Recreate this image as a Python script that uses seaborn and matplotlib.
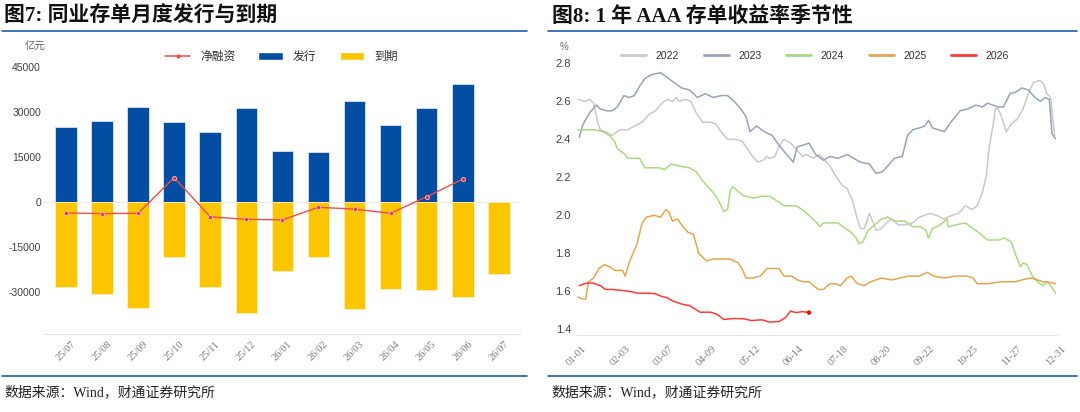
import numpy as np
import pandas as pd
import seaborn as sns
import matplotlib
matplotlib.use("Agg")
from matplotlib import pyplot as plt
from matplotlib.lines import Line2D
from matplotlib.patches import Patch

# ---------------- 图7 data (亿元) ----------------
months = ["25/07", "25/08", "25/09", "25/10", "25/11", "25/12", "26/01",
          "26/02", "26/03", "26/04", "26/05", "26/06", "26/07"]
issuance = [24800, 26800, 31500, 26400, 23300, 31200, 17000,
            16700, 33400, 25400, 31200, 39300, np.nan]
maturity = [-28600, -30800, -35400, -18400, -28400, -37100, -23100,
            -18600, -35900, -29300, -29600, -31800, -24200]
net = list(np.array(issuance) + np.array(maturity))

# ---------------- 图8 data (%) ----------------
days_2022 = [1, 6, 10, 13, 16, 18, 22, 27, 33, 39, 44, 50, 55, 60, 65, 69, 73, 76, 78, 83,
             87, 91, 96, 102, 106, 110, 115, 121, 126, 130, 134, 138, 142, 145, 147, 151, 154, 158, 163, 167,
             172, 175, 180, 185, 189, 193, 197, 202, 206, 210, 213, 216, 219, 223, 226, 228, 232, 236, 240, 245,
             250, 256, 261, 265, 269, 274, 280, 286, 291, 296, 301, 305, 309, 312, 314, 317, 319, 321, 323, 327,
             331, 336, 340, 344, 348, 353, 356, 358, 361, 364]
rate_2022 = [2.61, 2.60, 2.61, 2.59, 2.49, 2.45, 2.44, 2.42, 2.45, 2.45, 2.47, 2.49, 2.53, 2.55, 2.59, 2.61, 2.60, 2.62, 2.60, 2.61,
             2.60, 2.54, 2.49, 2.49, 2.48, 2.44, 2.40, 2.40, 2.39, 2.35, 2.31, 2.28, 2.29, 2.31, 2.30, 2.31, 2.36, 2.40, 2.38, 2.35,
             2.31, 2.32, 2.30, 2.32, 2.29, 2.26, 2.21, 2.16, 2.14, 2.08, 2.00, 1.93, 1.93, 2.01, 1.96, 1.92, 1.93, 1.96, 1.98, 1.95,
             1.95, 1.96, 1.99, 2.00, 2.01, 2.00, 1.98, 2.00, 2.01, 2.05, 2.03, 2.05, 2.12, 2.21, 2.35, 2.47, 2.56, 2.56, 2.53, 2.44,
             2.48, 2.51, 2.56, 2.64, 2.70, 2.71, 2.69, 2.64, 2.62, 2.42]

days_2023 = [2, 5, 10, 15, 18, 23, 27, 31, 36, 40, 44, 48, 52, 57, 64, 70, 76, 80, 86, 92,
             98, 104, 110, 115, 120, 125, 129, 132, 137, 143, 149, 154, 160, 165, 168, 173, 177, 182, 188, 193,
             199, 206, 211, 216, 223, 228, 233, 237, 242, 248, 252, 256, 261, 265, 268, 271, 280, 285, 292, 298,
             304, 309, 313, 321, 325, 330, 335, 339, 344, 349, 353, 357, 360, 362, 365]
rate_2023 = [2.41, 2.48, 2.54, 2.58, 2.56, 2.55, 2.55, 2.57, 2.63, 2.62, 2.63, 2.68, 2.72, 2.74, 2.75, 2.72, 2.69, 2.67, 2.66, 2.62,
             2.64, 2.62, 2.63, 2.63, 2.60, 2.56, 2.52, 2.44, 2.47, 2.44, 2.42, 2.37, 2.32, 2.28, 2.36, 2.37, 2.38, 2.32, 2.29, 2.31,
             2.30, 2.32, 2.30, 2.28, 2.27, 2.22, 2.23, 2.26, 2.30, 2.31, 2.42, 2.45, 2.46, 2.47, 2.50, 2.46, 2.44, 2.49, 2.55, 2.56,
             2.58, 2.57, 2.59, 2.57, 2.57, 2.64, 2.65, 2.67, 2.66, 2.62, 2.60, 2.62, 2.61, 2.43, 2.40]

days_2024 = [0, 8, 14, 20, 25, 29, 31, 37, 39, 48, 52, 57, 63, 67, 72, 78, 86, 91, 95, 100,
             104, 108, 112, 115, 117, 119, 124, 128, 130, 134, 141, 147, 154, 158, 167, 172, 177, 183, 185, 188,
             193, 199, 203, 209, 213, 215, 218, 222, 227, 232, 237, 242, 250, 256, 262, 266, 268, 271, 277, 282,
             283, 289, 296, 300, 306, 313, 321, 326, 331, 335, 338, 340, 343, 347, 351, 355, 358, 361, 365]
rate_2024 = [2.45, 2.45, 2.45, 2.44, 2.42, 2.39, 2.35, 2.32, 2.30, 2.30, 2.25, 2.25, 2.25, 2.24, 2.27, 2.26, 2.25, 2.23, 2.19, 2.15,
             2.12, 2.08, 2.02, 2.03, 2.13, 2.15, 2.12, 2.10, 2.10, 2.09, 2.10, 2.10, 2.07, 2.05, 2.05, 2.03, 2.00, 1.96, 1.94, 1.96,
             1.96, 1.96, 1.94, 1.91, 1.88, 1.85, 1.86, 1.92, 1.95, 1.98, 1.99, 1.97, 1.97, 1.94, 1.94, 1.92, 1.88, 1.93, 1.95, 1.98,
             1.94, 1.95, 1.96, 1.94, 1.91, 1.87, 1.87, 1.88, 1.86, 1.78, 1.73, 1.75, 1.74, 1.68, 1.65, 1.63, 1.65, 1.63, 1.59]

days_2025 = [1, 4, 7, 9, 13, 17, 21, 25, 29, 35, 37, 40, 43, 46, 50, 53, 59, 64, 68, 70,
             73, 77, 81, 85, 89, 93, 99, 104, 112, 117, 123, 126, 129, 134, 140, 145, 150, 154, 158, 164,
             168, 173, 177, 184, 188, 193, 197, 201, 206, 209, 214, 219, 224, 232, 240, 246, 253, 261, 267, 272,
             280, 288, 297, 302, 305, 313, 323, 334, 339, 346, 351, 355, 358, 365]
rate_2025 = [1.57, 1.56, 1.56, 1.65, 1.67, 1.72, 1.74, 1.73, 1.71, 1.71, 1.68, 1.75, 1.80, 1.85, 1.96, 1.99, 2.00, 1.99, 2.03, 2.02,
             1.97, 1.98, 1.94, 1.91, 1.90, 1.80, 1.76, 1.77, 1.77, 1.77, 1.75, 1.72, 1.67, 1.67, 1.68, 1.72, 1.72, 1.72, 1.68, 1.68,
             1.66, 1.65, 1.65, 1.61, 1.61, 1.64, 1.64, 1.63, 1.67, 1.68, 1.64, 1.63, 1.65, 1.67, 1.66, 1.67, 1.68, 1.68, 1.70, 1.68,
             1.67, 1.68, 1.68, 1.67, 1.64, 1.64, 1.65, 1.65, 1.66, 1.67, 1.66, 1.65, 1.65, 1.64]

days_2026 = [2, 6, 10, 14, 18, 22, 27, 34, 40, 47, 55, 60, 64, 69, 73, 77, 81, 86, 94, 102,
             107, 112, 120, 128, 133, 141, 147, 154, 159, 163, 167, 172, 177]
rate_2026 = [1.63, 1.64, 1.645, 1.64, 1.63, 1.61, 1.61, 1.605, 1.60, 1.59, 1.59, 1.587, 1.575, 1.566, 1.55, 1.54, 1.531, 1.525, 1.49, 1.49,
             1.479, 1.452, 1.457, 1.455, 1.446, 1.45, 1.438, 1.441, 1.461, 1.496, 1.488, 1.493, 1.488]

date_labels = ["01-01", "02-03", "03-07", "04-09", "05-12", "06-14",
               "07-18", "08-20", "09-22", "10-25", "11-27", "12-31"]

# ---------------- style ----------------
sns.set_style("white")
plt.rcParams['font.family'] = ['Liberation Sans', 'Noto Sans CJK SC']
serif_cjk = ['Liberation Serif', 'Noto Sans CJK SC']

BLUE = "#034EA2"
YELLOW = "#FBC500"
NET_RED = "#EE4B4B"
RULE = "#1C5DAE"
palette = {"2022": "#C9C9CD", "2023": "#98A3BB", "2024": "#A8DA84",
           "2025": "#E3A552", "2026": "#FF3A3A"}

fig = plt.figure(figsize=(10.8, 4.12), dpi=100)
W, H = 1080, 412

def fx(px):
    return px / W

def fy(py):
    return 1 - py / H

ax1 = fig.add_axes([fx(44.4), fy(333.5), fx(520.4 - 44.4), fy(66.7) - fy(333.5)])
ax2 = fig.add_axes([fx(576.6), fy(335), fx(1055.9 - 576.6), fy(63.3) - fy(335)])

# ---------------- left panel ----------------
ax1.axhline(0, color="#EAEAEA", lw=0.8, zorder=0)
sns.barplot(x=months, y=issuance, order=months, color=BLUE, saturation=1, width=0.6,
            edgecolor="#D6E2F0", linewidth=0.6, errorbar=None, ax=ax1)
sns.barplot(x=months, y=maturity, order=months, color=YELLOW, saturation=1, width=0.6,
            edgecolor="#FFF0C0", linewidth=0.6, errorbar=None, ax=ax1)
sns.pointplot(x=months, y=net, order=months, color=NET_RED, markers="o", markersize=3,
              linewidth=1.0, errorbar=None, ax=ax1)
for ln in ax1.lines[1:]:
    ln.set_markerfacecolor("#E03A4A")
    ln.set_markeredgecolor("#FFB8C0")
    ln.set_markeredgewidth(0.6)

ax1.set_xlim(-0.6, 12.6)
ax1.set_ylim(-44000, 45000)
ax1.set_yticks([-30000, -15000, 0, 15000, 30000, 45000])
ax1.set_yticklabels(["-30000", "-15000", "0", "15000", "30000", "45000"])
ax1.set_xlabel("")
ax1.set_ylabel("")
for s in ["top", "right", "left"]:
    ax1.spines[s].set_visible(False)
ax1.spines["bottom"].set_color("#E3E3E3")
ax1.tick_params(axis="y", length=0, pad=2.5, labelsize=7.5, labelcolor="#404040")
ax1.tick_params(axis="x", length=2.5, color="#C8C8C8", pad=2)
ax1.set_xticks(range(len(months)))
ax1.set_xticklabels(months, rotation=45, ha="center", va="top",
                    fontsize=7.5, color="#7A7A7A", family=serif_cjk)

fig.text(fx(35), fy(47), "亿元", fontsize=7.5, color="#606060", ha="center", va="center")
h1 = [Line2D([0], [0], color=NET_RED, lw=1.1, marker="o", markersize=2),
      Patch(facecolor=BLUE), Patch(facecolor=YELLOW)]
fig.legend(h1, ["净融资", "发行", "到期"], loc="center", bbox_to_anchor=(fx(281.5), fy(57)),
           ncol=3, frameon=False, fontsize=8.5, handlelength=2.1, handletextpad=0.85,
           columnspacing=1.95, labelcolor="#303030")

# ---------------- right panel ----------------
frames = []
for yr, d, r in [("2022", days_2022, rate_2022), ("2023", days_2023, rate_2023),
                 ("2024", days_2024, rate_2024), ("2025", days_2025, rate_2025),
                 ("2026", days_2026, rate_2026)]:
    frames.append(pd.DataFrame({"day": d, "rate": r, "year": yr}))
df = pd.concat(frames, ignore_index=True)

sns.lineplot(data=df, x="day", y="rate", hue="year", palette=palette, estimator=None,
             errorbar=None, linewidth=1.1, legend=False, ax=ax2)
sns.scatterplot(x=[days_2026[-1]], y=[rate_2026[-1]], color="#FF0000", s=10,
                edgecolor="none", ax=ax2, zorder=5)

tick_days = [pd.Timestamp("2024-" + lbl).dayofyear - 1 for lbl in date_labels]
ax2.set_xlim(0, 365)
ax2.set_ylim(1.4 - 5.7 / 190.5, 2.8)
ax2.set_xticks(tick_days)
ax2.set_xticklabels(date_labels, rotation=45, ha="center", va="top",
                    fontsize=7.5, color="#7A7A7A", family=serif_cjk)
ax2.set_yticks(np.arange(1.4, 2.81, 0.2))
ax2.set_yticklabels([f"{v:.1f}" for v in np.arange(1.4, 2.81, 0.2)])
ax2.set_xlabel("")
ax2.set_ylabel("")
for s in ["top", "right", "left"]:
    ax2.spines[s].set_visible(False)
ax2.spines["bottom"].set_color("#E3E3E3")
ax2.tick_params(axis="y", length=0, pad=4, labelsize=8, labelcolor="#404040")
ax2.tick_params(axis="x", length=2.5, color="#C8C8C8", pad=4)

fig.text(fx(564), fy(47), "%", fontsize=7, color="#707070", ha="center", va="center")
h2 = [Line2D([0], [0], color=palette[y], lw=2) for y in palette]
fig.legend(h2, list(palette), loc="center", bbox_to_anchor=(fx(815), fy(56)), ncol=5,
           frameon=False, fontsize=7.5, handlelength=2.4, handletextpad=0.9,
           columnspacing=2.4, labelcolor="#303030")

# ---------------- titles, rules, sources ----------------
fig.text(fx(4), fy(17), "图7: 同业存单月度发行与到期", fontsize=15, fontweight="bold",
         family=serif_cjk, ha="left", va="center", color="#111111")
fig.text(fx(552), fy(17), "图8: 1 年 AAA 存单收益率季节性", fontsize=15, fontweight="bold",
         family=serif_cjk, ha="left", va="center", color="#111111")
for x0, x1 in [(2, 527), (548, 1077)]:
    fig.add_artist(Line2D([fx(x0), fx(x1)], [fy(31), fy(31)], color=RULE, lw=1.2))
    fig.add_artist(Line2D([fx(x0), fx(x1)], [fy(376), fy(376)], color=RULE, lw=1.2))
fig.text(fx(4), fy(392), "数据来源：Wind，财通证券研究所", fontsize=10, family=serif_cjk,
         ha="left", va="center", color="#222222")
fig.text(fx(551), fy(392), "数据来源：Wind，财通证券研究所", fontsize=10, family=serif_cjk,
         ha="left", va="center", color="#222222")

fig.savefig("out.png", dpi=100)
